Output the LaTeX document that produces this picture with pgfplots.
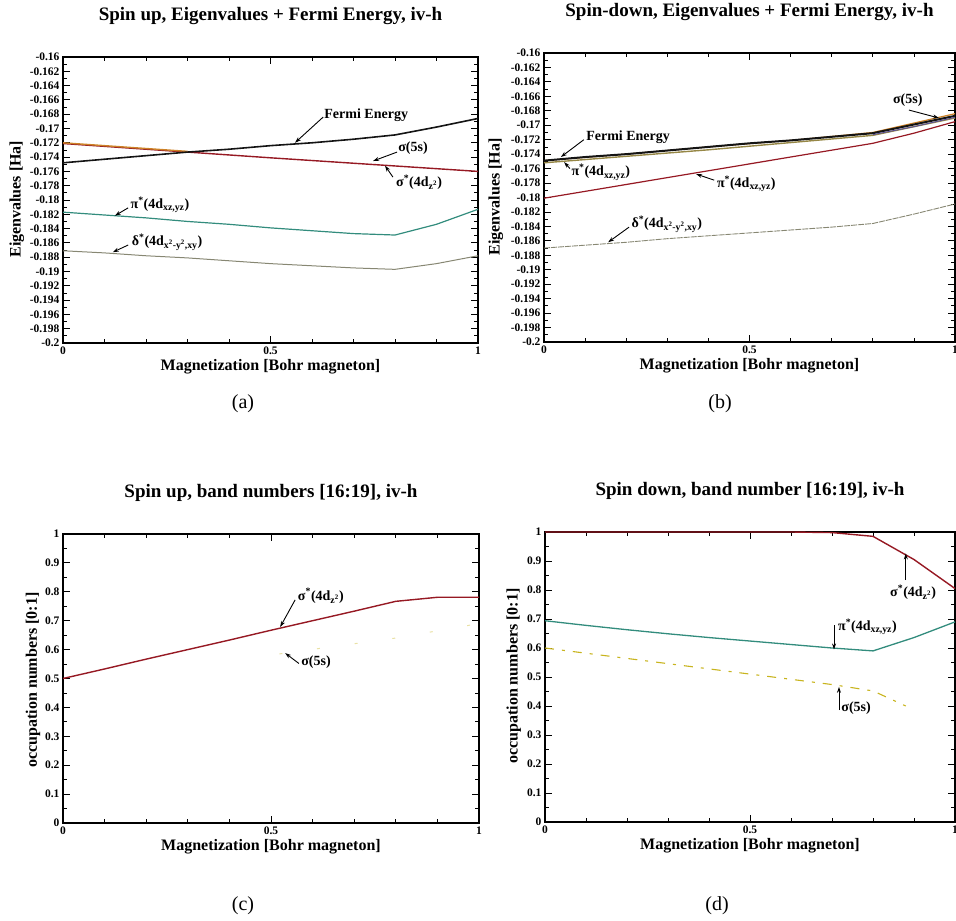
\documentclass[border=0pt]{standalone}
\usepackage{pgfplots}
\pgfplotsset{compat=1.18}
\usepackage{fontspec}
\setmainfont{Liberation Serif}
\usetikzlibrary{arrows.meta}
\definecolor{fermi}{RGB}{20,20,20}
\definecolor{sred}{RGB}{150,25,35}
\definecolor{sorange}{RGB}{205,130,40}
\definecolor{tealc}{RGB}{50,140,125}
\definecolor{dgray}{RGB}{135,135,115}
\definecolor{olivec}{RGB}{150,135,70}
\definecolor{yelc}{RGB}{200,180,30}
\definecolor{bluec}{RGB}{90,80,150}
\tikzset{
  arr/.style={-{Stealth[length=6pt,width=4pt]}, line width=0.9pt, black},
  ann/.style={font=\fontsize{14}{15}\selectfont\bfseries, inner sep=1pt},
}
\newcommand{\labfont}{\fontsize{16}{17}\selectfont\bfseries}
\pgfplotsset{
  panel/.style={
    scale only axis, clip=false,
    axis line style={line width=1.2pt},
    every tick/.style={black, line width=0.8pt},
    major tick length=7pt, minor tick length=4pt,
    xmin=0, xmax=1, xtick={0,0.5,1}, minor x tick num=4,
    tick label style={font=\fontsize{11.5}{12}\selectfont\bfseries},
    /pgf/number format/assume math mode=true,
    title style={font=\fontsize{19}{20}\selectfont\bfseries, at={(axis description cs:0.5,1.121)}, anchor=center},
    every axis x label/.style={at={(axis description cs:0.5,-0.082)}, anchor=center, font=\labfont},
    xlabel={Magnetization [Bohr magneton]},
  },
  eig/.style={ymin=-0.2, ymax=-0.16,
    ytick={-0.2,-0.198,-0.196,-0.194,-0.192,-0.19,-0.188,-0.186,-0.184,-0.182,-0.18,-0.178,-0.176,-0.174,-0.172,-0.17,-0.168,-0.166,-0.164,-0.162,-0.16},
    minor y tick num=1,
    yticklabel style={/pgf/number format/.cd, fixed, precision=3},
    ylabel={Eigenvalues [Ha]}},
  occ/.style={ymin=0, ymax=1, ytick={0,0.1,0.2,0.3,0.4,0.5,0.6,0.7,0.8,0.9,1},
    minor y tick num=1,
    yticklabel style={/pgf/number format/.cd, fixed, precision=1},
    ylabel={occupation numbers [0:1]}},
}
\begin{document}
\begin{tikzpicture}
% ---------------- (a)
\begin{axis}[panel, eig, width=415pt, height=286pt, at={(63pt,578pt)}, anchor=south west,
  title={Spin up, Eigenvalues + Fermi Energy, iv-h},
  every axis y label/.style={at={(axis description cs:-0.111,0.503)}, rotate=90, anchor=center, font=\labfont}]
\addplot[sred, line width=1.4pt] coordinates {(0,-0.1721) (0.5,-0.1741) (1,-0.1760)};
\addplot[sorange, line width=1.4pt] coordinates {(0,-0.1720) (0.15,-0.1726) (0.3,-0.1732)};
\addplot[fermi, line width=1.6pt] coordinates {(0,-0.1748) (0.1,-0.1743) (0.2,-0.1738) (0.3,-0.1733) (0.4,-0.1729) (0.5,-0.1724) (0.6,-0.1720) (0.7,-0.1715) (0.8,-0.1709) (0.9,-0.1698) (1,-0.1686)};
\addplot[tealc, line width=1.2pt] coordinates {(0,-0.1817) (0.1,-0.1821) (0.2,-0.1825) (0.3,-0.1830) (0.4,-0.1834) (0.5,-0.1839) (0.6,-0.1843) (0.7,-0.1847) (0.8,-0.1849) (0.9,-0.1834) (1,-0.1813)};
\addplot[dgray, line width=1.0pt] coordinates {(0,-0.1871) (0.1,-0.1874) (0.2,-0.1878) (0.3,-0.1881) (0.4,-0.1885) (0.5,-0.1889) (0.6,-0.1892) (0.7,-0.1895) (0.8,-0.1897) (0.9,-0.1889) (1,-0.1878)};
\draw[arr] (axis cs:0.627,-0.1684) -- (axis cs:0.559,-0.1720);
\node[ann, anchor=west] at (axis cs:0.627,-0.1681) {Fermi Energy};
\draw[arr] (axis cs:0.805,-0.1733) -- (axis cs:0.747,-0.17455);
\node[ann, anchor=west] at (axis cs:0.805,-0.1728) {σ(5s)};
\draw[arr] (axis cs:0.795,-0.1768) -- (axis cs:0.776,-0.1752);
\node[ann, anchor=west] at (axis cs:0.800,-0.1775) {σ\textsuperscript{*}(4d\textsubscript{z\textsuperscript{2}})};
\draw[arr] (axis cs:0.157,-0.1811) -- (axis cs:0.125,-0.1822);
\node[ann, anchor=west] at (axis cs:0.160,-0.1807) {π\textsuperscript{*}(4d\textsubscript{xz,yz})};
\draw[arr] (axis cs:0.157,-0.1863) -- (axis cs:0.120,-0.1873);
\node[ann, anchor=west] at (axis cs:0.163,-0.1859) {δ\textsuperscript{*}(4d\textsubscript{x\textsuperscript{2}-y\textsuperscript{2},xy})};
\end{axis}
% ---------------- (b)
\begin{axis}[panel, eig, width=411pt, height=289pt, at={(544pt,579pt)}, anchor=south west,
  title={Spin-down, Eigenvalues + Fermi Energy, iv-h},
  every axis y label/.style={at={(axis description cs:-0.117,0.502)}, rotate=90, anchor=center, font=\labfont}]
\addplot[olivec, line width=1.4pt] coordinates {(0,-0.1752) (0.2,-0.1743) (0.4,-0.1734) (0.6,-0.1724) (0.8,-0.1714) (0.9,-0.1702) (1,-0.1690)};
\addplot[sorange, line width=1.2pt] coordinates {(0,-0.1749) (0.2,-0.1740) (0.4,-0.1730) (0.6,-0.1721) (0.8,-0.1710) (0.9,-0.1697) (1,-0.1684)};
\addplot[fermi, line width=2.0pt] coordinates {(0,-0.1749) (0.1,-0.1744) (0.2,-0.1740) (0.3,-0.1735) (0.4,-0.1730) (0.5,-0.1725) (0.6,-0.1721) (0.7,-0.1716) (0.8,-0.1711) (0.9,-0.1699) (1,-0.1687)};
\addplot[bluec, line width=0.9pt] coordinates {(0.8,-0.1713) (0.9,-0.1702) (1,-0.1689)};
\addplot[sred, line width=1.2pt] coordinates {(0,-0.1801) (0.1,-0.17915) (0.2,-0.1782) (0.3,-0.17725) (0.4,-0.1763) (0.5,-0.17535) (0.6,-0.1744) (0.7,-0.17345) (0.8,-0.1725) (0.9,-0.1711) (1,-0.1695)};
\addplot[dgray, line width=0.9pt, dash pattern=on 6pt off 1pt] coordinates {(0,-0.1870) (0.1,-0.1866) (0.2,-0.1862) (0.3,-0.1857) (0.4,-0.1853) (0.5,-0.1849) (0.6,-0.1845) (0.7,-0.1841) (0.8,-0.1836) (0.9,-0.1823) (1,-0.1809)};
\draw[arr] (axis cs:0.097,-0.1720) -- (axis cs:0.041,-0.1744);
\node[ann, anchor=west] at (axis cs:0.100,-0.1716) {Fermi Energy};
\draw[arr] (axis cs:0.063,-0.1760) -- (axis cs:0.049,-0.1751);
\node[ann, anchor=west] at (axis cs:0.064,-0.1765) {π\textsuperscript{*}(4d\textsubscript{xz,yz})};
\draw[arr] (axis cs:0.414,-0.1776) -- (axis cs:0.370,-0.17675);
\node[ann, anchor=west] at (axis cs:0.418,-0.1781) {π\textsuperscript{*}(4d\textsubscript{xz,yz})};
\draw[arr] (axis cs:0.888,-0.1679) -- (axis cs:0.961,-0.1690);
\node[ann, anchor=center] at (axis cs:0.885,-0.1665) {σ(5s)};
\draw[arr] (axis cs:0.207,-0.1841) -- (axis cs:0.156,-0.1862);
\node[ann, anchor=west] at (axis cs:0.210,-0.1837) {δ\textsuperscript{*}(4d\textsubscript{x\textsuperscript{2}-y\textsuperscript{2},xy})};
\end{axis}
% ---------------- (c)
\begin{axis}[panel, occ, width=416pt, height=289pt, at={(63pt,98pt)}, anchor=south west,
  title={Spin up, band numbers [16:19], iv-h},
  every axis y label/.style={at={(axis description cs:-0.072,0.495)}, rotate=90, anchor=center, font=\labfont}]
\addplot[yelc!40!white, line width=1.0pt, dash pattern=on 3pt off 35pt] coordinates {(0.52,0.585) (0.8,0.640) (1,0.690)};
\addplot[sred, line width=1.4pt] coordinates {(0,0.500) (0.1,0.533) (0.2,0.567) (0.3,0.600) (0.4,0.633) (0.5,0.667) (0.6,0.700) (0.7,0.733) (0.8,0.767) (0.9,0.781) (1,0.781)};
\draw[arr] (axis cs:0.558,0.772) -- (axis cs:0.522,0.678);
\node[ann, anchor=west] at (axis cs:0.562,0.786) {σ\textsuperscript{*}(4d\textsubscript{z\textsuperscript{2}})};
\draw[arr] (axis cs:0.567,0.552) -- (axis cs:0.534,0.588);
\node[ann, anchor=west] at (axis cs:0.570,0.556) {σ(5s)};
\end{axis}
% ---------------- (d)
\begin{axis}[panel, occ, width=410pt, height=290pt, at={(545pt,99pt)}, anchor=south west,
  title={Spin down, band number [16:19], iv-h},
  every axis y label/.style={at={(axis description cs:-0.076,0.503)}, rotate=90, anchor=center, font=\labfont}]
\addplot[sred, line width=1.4pt] coordinates {(0,1) (0.1,1) (0.2,1) (0.3,1) (0.4,1) (0.5,1) (0.6,1) (0.7,0.998) (0.8,0.985) (0.9,0.905) (1,0.805)};
\addplot[tealc, line width=1.3pt] coordinates {(0,0.694) (0.1,0.678) (0.2,0.663) (0.3,0.649) (0.4,0.636) (0.5,0.624) (0.6,0.612) (0.7,0.600) (0.8,0.590) (0.9,0.636) (1,0.690)};
\addplot[yelc, line width=1.1pt, dash pattern=on 9pt off 8pt on 3pt off 8pt] coordinates {(0,0.600) (0.1,0.582) (0.2,0.564) (0.3,0.546) (0.4,0.528) (0.5,0.510) (0.6,0.492) (0.7,0.474) (0.8,0.452) (0.88,0.400)};
\draw[arr] (axis cs:0.880,0.834) -- (axis cs:0.880,0.926);
\node[ann, anchor=center] at (axis cs:0.898,0.793) {σ\textsuperscript{*}(4d\textsubscript{z\textsuperscript{2}})};
\draw[arr] (axis cs:0.705,0.679) -- (axis cs:0.705,0.595);
\node[ann, anchor=west] at (axis cs:0.712,0.672) {π\textsuperscript{*}(4d\textsubscript{xz,yz})};
\draw[arr] (axis cs:0.717,0.386) -- (axis cs:0.717,0.466);
\node[ann, anchor=west] at (axis cs:0.720,0.393) {σ(5s)};
\end{axis}
\node[font=\fontsize{20}{21}\selectfont] at (243pt,517pt) {(a)};
\node[font=\fontsize{20}{21}\selectfont] at (720pt,517pt) {(b)};
\node[font=\fontsize{20}{21}\selectfont] at (243pt,15pt) {(c)};
\node[font=\fontsize{20}{21}\selectfont] at (717pt,15pt) {(d)};
\pgfresetboundingbox
\useasboundingbox (0,0) rectangle (956pt,921pt);
\end{tikzpicture}
\end{document}
